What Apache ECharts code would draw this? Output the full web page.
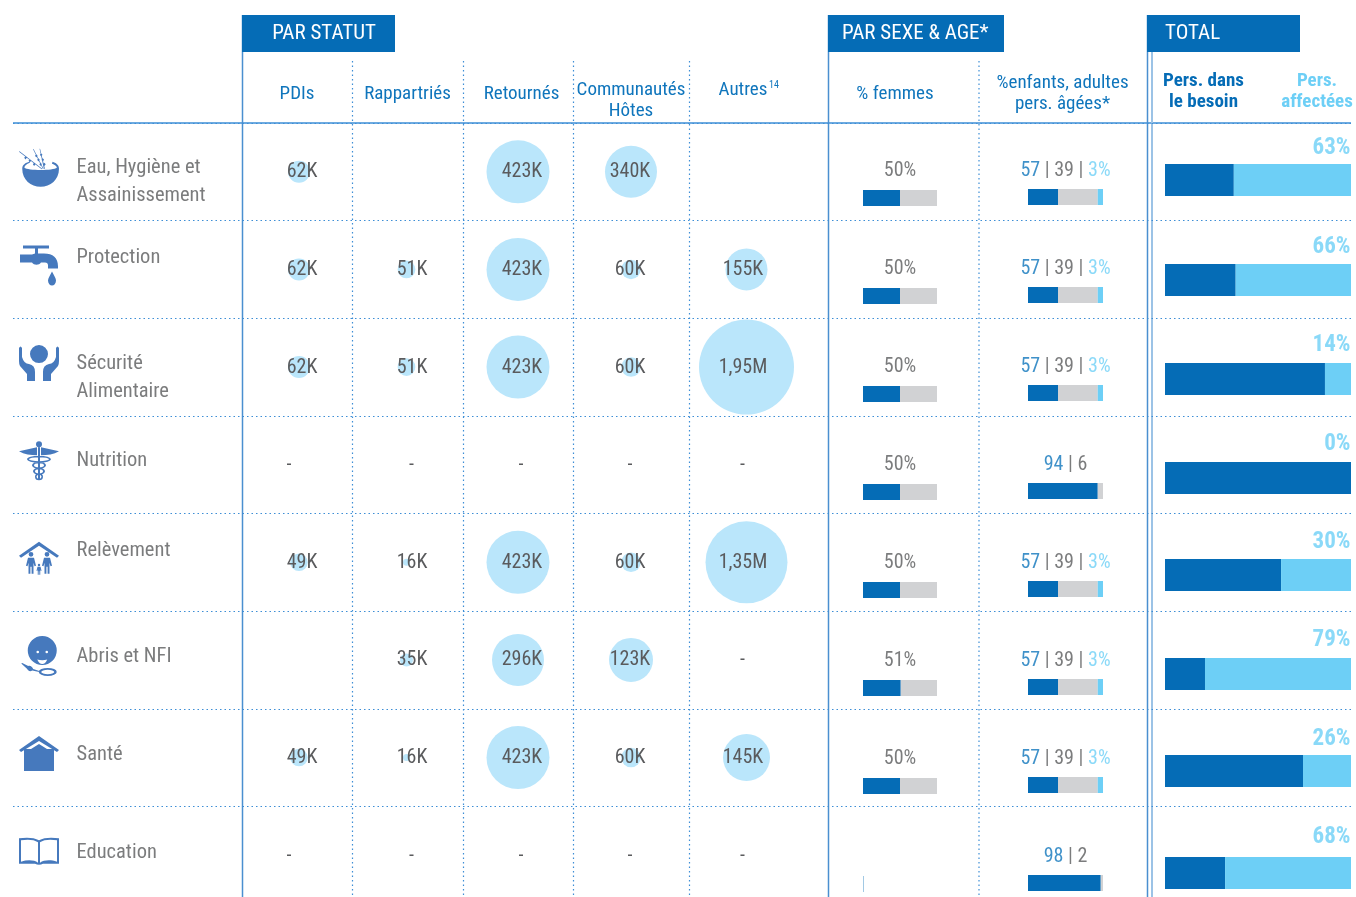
<!DOCTYPE html>
<html lang="fr">
<head>
<meta charset="utf-8">
<title>Personnes dans le besoin par secteur</title>
<script src="https://cdn.jsdelivr.net/npm/echarts@6/dist/echarts.min.js"></script>
<style>
  html, body { margin: 0; padding: 0; background: #fff; }
  #chart { width: 1356px; height: 897px; }
</style>
</head>
<body>
<div id="chart"></div>
<script>
// Données
const sectors = ['Eau, Hygiène et\nAssainissement', 'Protection', 'Sécurité\nAlimentaire', 'Nutrition', 'Relèvement', 'Abris et NFI', 'Santé', 'Education'];
const statuses = ['PDIs', 'Rappartriés', 'Retournés', 'Communautés\nHôtes', 'Autres'];

// en milliers, null = case vide, 0 = tiret
const pdis = [62, 62, 62, 0, 49, null, 49, 0];
const rapatries = [null, 51, 51, 0, 16, 35, 16, 0];
const retournes = [423, 423, 423, 0, 423, 296, 423, 0];
const hotes = [340, 60, 60, 0, 60, 123, 60, 0];
const autres = [null, 155, 1950, 0, 1350, 0, 145, 0];

// % femmes
const femmes = [50, 50, 50, 50, 50, 51, 50, 0.5];
const hommes = [50, 50, 50, 50, 50, 49, 50, 0];
const femmesLabels = ['50%', '50%', '50%', '50%', '50%', '51%', '50%', ''];

// enfants | adultes | pers. âgées
const ageEnfants = [57, 57, 57, 94, 57, 57, 57, 98];
const ageAdultes = [39, 39, 39, 6, 39, 39, 39, 2];
const ageAges = [3, 3, 3, null, 3, 3, 3, null];
const barEnfants = [40, 40, 40, 93, 40, 40, 40, 97];
const barAdultes = [53, 53, 53, 7, 53, 53, 53, 3];
const barAges = [7, 7, 7, 0, 7, 7, 7, 0];

// total
const besoin = [37, 38, 86, 100, 62.4, 21.5, 74.2, 32.3];
const affectees = [63, 62, 14, 0, 37.6, 78.5, 25.8, 67.7];
const affecteesLabels = ['63%', '66%', '14%', '0%', '30%', '79%', '26%', '68%'];

// Style
const FONT = '"Roboto Condensed", "Liberation Sans", sans-serif';
const BLUE = '#056cb6';
const HEAD = '#0f75bc';
const SKY = '#6dcff6';
const GREY = '#d1d2d4';
const TEXT = '#5a5b5d';
const BUBBLE = '#bae6fb';
const ICON = '#4679bd';
const LINE = '#3d8ed6';
const VALUE_SIZE = 20;

// diametre des bulles (px) par valeur
const bubbleSize = { 16: 7, 35: 13, 49: 17.5, 51: 17.7, 60: 19.5, 62: 22, 123: 44, 145: 47, 155: 42, 296: 52, 340: 52, 423: 63, 1350: 82, 1950: 95 };

const circle = (cx, cy, r, sweep) => `M${cx - r} ${cy}A${r} ${r} 0 1 ${sweep} ${cx + r} ${cy}A${r} ${r} 0 1 ${sweep} ${cx - r} ${cy}Z`;
const ellipse = (cx, cy, rx, ry, sweep) => `M${cx - rx} ${cy}A${rx} ${ry} 0 1 ${sweep} ${cx + rx} ${cy}A${rx} ${ry} 0 1 ${sweep} ${cx - rx} ${cy}Z`;
const person = (x, y, k) => circle(x, y + 2.5 * k, 2.4 * k, 1)
  + `M${x - 3 * k} ${y + 6 * k}H${x + 3 * k}L${x + 5 * k} ${y + 14 * k}L${x + 3.5 * k} ${y + 14.5 * k}L${x + 2.5 * k} ${y + 11 * k}V${y + 22 * k}H${x + 0.6 * k}V${y + 15 * k}H${x - 0.6 * k}V${y + 22 * k}H${x - 2.5 * k}V${y + 11 * k}L${x - 3.5 * k} ${y + 14.5 * k}L${x - 5 * k} ${y + 14 * k}Z`;
// epi de blé : tige fine et quelques grains
const grain = (x, y) => `M${x - 1.2} ${y}L${x} ${y - 1.6}L${x + 1.2} ${y}L${x} ${y + 1.6}Z`;

// icones dans l'ordre des lignes
const icons = [
  { size: [40, 38], path: 'M3 20C3 31 11 38 20 38C29 38 37 31 37 20C37 16 34 14 31 13L30.500 15C33 16 35 17 35 19C32 22 8 22 5 19C5 17 7 15 10 14L9.500 13C6 14 3 16 3 20Z'
    + 'M21 20.500L0 3L0.500 2.500L21.500 20Z' + grain(6, 9) + grain(10, 12) + grain(14, 15.500)
    + 'M22 20L13 0.500L13.500 0.300L22.700 20Z' + grain(16, 7) + grain(18, 11) + grain(20, 15.500)
    + 'M23 20L19 0L19.500 0L24 20Z' + grain(20.500, 6) + grain(22, 11) + grain(23.500, 15.500) },
  { size: [38, 40], path: 'M3 0H29V3H18V8H24C33 8 38 12 38 21V23H28V20C28 18 27 17 25 17H21C19 20 14 20 12 17H0V9H12L15 8V3H3Z'
    + 'M32 26C34 30 36 33 36 35C36 38 34 40 32 40C30 40 28 38 28 35C28 33 30 30 32 26Z' },
  { size: [40, 36], path: circle(20, 9, 9, 1)
    + 'M0 3Q1.500 0 3 3L3 12Q5 19 10 19Q16 20 16 27V36H8V29L1 21Q0 19 0 16Z'
    + 'M40 3Q38.500 0 37 3L37 12Q35 19 30 19Q24 20 24 27V36H32V29L39 21Q40 19 40 16Z' },
  { size: [40, 39], path: circle(20, 3, 3, 1)
    + 'M0 10C6 9 12 7 18 6V14C12 14 5 13 0 10Z M40 10C34 9 28 7 22 6V14C28 14 35 13 40 10Z'
    + 'M19 6H21V39H19Z'
    + ellipse(20, 18, 12, 3.5, 1) + ellipse(20, 18, 10, 2, 0)
    + ellipse(20, 24, 7, 3.5, 1) + ellipse(20, 24, 5, 2, 0)
    + ellipse(20, 30, 6, 3.5, 1) + ellipse(20, 30, 4, 2, 0)
    + ellipse(20, 35.500, 4, 3.5, 1) + ellipse(20, 35.500, 2.500, 2, 0) },
  { size: [40, 33], path: 'M0 14L20 0L40 14L38 16L20 4L2 16Z' + person(12, 10, 1) + person(28, 10, 1) + person(20, 22, 0.5) },
  { size: [35.500, 40], path: circle(21, 14.500, 14.500, 1) + circle(16.500, 16, 1.300, 0) + circle(25.500, 16, 1.300, 0)
    + 'M16 23.500Q18 28 21 28Q24 28 26 23.500Q21 25 16 23.500Z'
    + 'M0 27.500L1 27L7 30C9 29 11 31 12 33L18 35L18 36L11 34.500C9 36 7 35 6 33Z'
    + ellipse(26.500, 36, 9, 4, 1) + ellipse(26.500, 36, 6.500, 2.200, 0) },
  { size: [40, 35], path: 'M0 14L20 0L40 14L38 16L20 5L2 16Z M5 13H12L20 8L28 13H35V35H5Z' },
  { size: [40, 27], path: 'M0 1C7 0 15 0 20 3C25 0 33 0 40 1V26H24Q22 27 20 27Q18 27 16 26H0Z'
    + 'M2 3V24C8 22 15 22 19 25V5C15 2 8 2 2 3Z M38 3C32 2 25 2 21 5V25C25 22 32 22 38 24Z' }
];

const grids = [], xAxes = [], yAxes = [], series = [];
function addGrid(left, width, top, height, xAxis, yCats) {
  // outerBoundsMode none, sinon v6 retrecit la grille pour rester dans le canvas
  grids.push({ left, width, top, height, outerBoundsMode: 'none' });
  xAxes.push(Object.assign({ gridIndex: grids.length - 1, show: false }, xAxis));
  yAxes.push({ gridIndex: grids.length - 1, type: 'category', data: yCats, inverse: true, show: false });
  return grids.length - 1;
}
const pctAxis = { type: 'value', min: 0, max: 100 };
const dotted = { type: [1.5, 3], width: 1.2, color: LINE };
const transparentDot = { symbolSize: 1, itemStyle: { color: 'transparent' } };

// grille principale : les pointillés horizontaux viennent de l'axe
grids.push({ left: 13, width: 1338, top: 123, height: 781, outerBoundsMode: 'none' });
xAxes.push({ gridIndex: 0, type: 'value', show: false });
yAxes.push({
  gridIndex: 0, type: 'category', data: sectors, inverse: true,
  axisLine: { show: false }, axisTick: { show: false }, axisLabel: { show: false },
  splitLine: { show: true, interval: 0, lineStyle: dotted }
});

// icones
const iconGrid = addGrid(19, 40, 119, 781, { type: 'category', data: ['icon'] }, sectors);
series.push({
  type: 'scatter', xAxisIndex: iconGrid, yAxisIndex: iconGrid, silent: true,
  itemStyle: { color: ICON, opacity: 1 },
  data: sectors.map((s, i) => ({ value: ['icon', s], symbol: 'path://' + icons[i].path, symbolSize: icons[i].size }))
});

// noms des secteurs
const nameOffsets = [10, -12, 10.5, -4, -11, -3.500, -3, -2.500];
const nameGrid = addGrid(76, 150, 123, 781, { type: 'value', min: 0, max: 1 }, sectors);
series.push(Object.assign({
  type: 'scatter', xAxisIndex: nameGrid, yAxisIndex: nameGrid, silent: true,
  data: sectors.map((s, i) => ({
    value: [0, s],
    label: {
      show: true, position: 'right', distance: 0, offset: [0, nameOffsets[i]],
      formatter: s, color: TEXT, fontFamily: FONT, fontSize: 20.5, lineHeight: 28, align: 'left'
    }
  }))
}, transparentDot));

// bulles par statut
const bubbleColumns = [
  { values: pdis, centre: 299, textDx: 3, dashDx: -10 },
  { values: rapatries, centre: 406.5, textDx: 5.500, dashDx: 5 },
  { values: retournes, centre: 518, textDx: 4, dashDx: 3 },
  { values: hotes, centre: 631, textDx: -1, dashDx: -1 },
  { values: autres, centre: 746.500, textDx: -3.500, dashDx: -4 }
];
const fmtValue = v => v === 0 ? '-' : v >= 1000 ? (v / 1000).toFixed(2).replace('.', ',') + 'M' : v + 'K';
bubbleColumns.forEach((col, c) => {
  const g = addGrid(col.centre - 50, 100, 123, 781, { type: 'category', data: [statuses[c]] }, sectors);
  series.push({
    type: 'scatter', xAxisIndex: g, yAxisIndex: g, silent: true,
    symbolSize: d => bubbleSize[d[2]] || 0,
    itemStyle: { color: BUBBLE, opacity: 1 },
    data: col.values.map((v, r) => v === null ? null : {
      value: [statuses[c], sectors[r], v],
      label: {
        show: true, position: 'inside', formatter: fmtValue(v), color: TEXT, fontFamily: FONT, fontSize: VALUE_SIZE,
        offset: [v === 0 ? col.dashDx : col.textDx, 0.5]
      }
    }).filter(Boolean)
  });
});

// barres empilées helper
function stackBar(g, values, color, height, stack) {
  return {
    type: 'bar', xAxisIndex: g, yAxisIndex: g, stack, barWidth: height, silent: true,
    itemStyle: { color }, data: values
  };
}

// % femmes
const femGrid = addGrid(863, 74, 149, 784, pctAxis, sectors);
series.push(stackBar(femGrid, femmes, BLUE, 16, 'f'), stackBar(femGrid, hommes, GREY, 16, 'f'));
series.push(Object.assign({
  type: 'scatter', xAxisIndex: femGrid, yAxisIndex: femGrid, silent: true,
  data: femmesLabels.map((t, r) => ({
    value: [50, sectors[r]],
    label: { show: true, position: 'inside', formatter: t, offset: [0, -27.5], color: TEXT, fontFamily: FONT, fontSize: VALUE_SIZE }
  }))
}, transparentDot));

// age
const ageGrid = addGrid(1028, 75, 148, 784, pctAxis, sectors);
series.push(stackBar(ageGrid, barEnfants, BLUE, 16, 'a'), stackBar(ageGrid, barAdultes, GREY, 16, 'a'), stackBar(ageGrid, barAges, SKY, 16, 'a'));
const ageRich = {
  a: { color: HEAD, fontFamily: FONT, fontSize: VALUE_SIZE },
  g: { color: TEXT, fontFamily: FONT, fontSize: VALUE_SIZE },
  c: { color: SKY, fontFamily: FONT, fontSize: VALUE_SIZE }
};
series.push(Object.assign({
  type: 'scatter', xAxisIndex: ageGrid, yAxisIndex: ageGrid, silent: true,
  data: sectors.map((s, r) => ({
    value: [50, s],
    label: {
      show: true, position: 'inside', offset: [0, -26.5], rich: ageRich,
      formatter: `{a|${ageEnfants[r]}}{g| | ${ageAdultes[r]}}` + (ageAges[r] === null ? '' : `{g| | }{c|${ageAges[r]}%}`)
    }
  }))
}, transparentDot));

// total, une petite grille par ligne car les barres ne sont pas tout à fait régulières
const totalBarY = [180, 280, 379, 478, 575, 674, 771, 873];
const totalLabelY = [148, 247, 345, 444, 542, 640, 739, 837];
sectors.forEach((s, r) => {
  const g = addGrid(1165, 186, totalBarY[r] - 16, 32, pctAxis, [s]);
  series.push(stackBar(g, [besoin[r]], BLUE, 32, 't' + r), stackBar(g, [affectees[r]], SKY, 32, 't' + r));
  series.push(Object.assign({
    type: 'scatter', xAxisIndex: g, yAxisIndex: g, silent: true,
    data: [{
      value: [100, s],
      label: {
        show: true, position: 'left', distance: 0, offset: [0, totalLabelY[r] - totalBarY[r]],
        formatter: affecteesLabels[r], color: SKY, fontFamily: FONT, fontSize: 23, fontWeight: 'bold'
      }
    }]
  }, transparentDot));
});

// Habillage : filets, bandeaux, entêtes
const vLine = (x, y1, color, width, dash) => ({
  type: 'line', shape: { x1: x, y1, x2: x, y2: 897 }, silent: true,
  style: { stroke: color, lineWidth: width, lineDash: dash || null }
});
const headBox = (x, width, text, textX, align) => [
  { type: 'rect', shape: { x, y: 15, width, height: 37 }, silent: true, style: { fill: BLUE } },
  { type: 'text', x: textX, y: 33.5, silent: true, style: { text, fill: '#fff', font: '21px ' + FONT, align, verticalAlign: 'middle' } }
];
const headText = (x, y, text, color, weight, size) => ({
  type: 'text', x, y, silent: true,
  style: { text, fill: color, font: `${weight || 'normal'} ${size || 19}px ${FONT}`, align: 'center', verticalAlign: 'middle', lineHeight: 21 }
});

const graphic = [
  { type: 'line', shape: { x1: 13, y1: 123, x2: 1351, y2: 123 }, silent: true, style: { stroke: LINE, lineWidth: 1.5 } },
  vLine(242.5, 15, '#4a8fd0', 1.5),
  vLine(828.5, 15, '#4a8fd0', 1.5),
  vLine(1147.5, 15, '#4a8fd0', 1.5),
  vLine(1152, 52, '#9cc3e6', 2),
  vLine(352.5, 61, LINE, 1.2, [1.5, 3]),
  vLine(463.5, 61, LINE, 1.2, [1.5, 3]),
  vLine(573.5, 61, LINE, 1.2, [1.5, 3]),
  vLine(689.5, 61, LINE, 1.2, [1.5, 3]),
  vLine(979, 61, LINE, 1.2, [1.5, 3]),
  ...headBox(242, 153, 'PAR STATUT', 324, 'center'),
  ...headBox(828, 176, 'PAR SEXE & AGE*', 842, 'left'),
  ...headBox(1147, 153, 'TOTAL', 1165, 'left'),
  headText(297, 94, statuses[0], HEAD),
  headText(407.5, 94, statuses[1], HEAD),
  headText(521.5, 94, statuses[2], HEAD),
  headText(631, 101, statuses[3], HEAD),
  headText(743, 90, statuses[4], HEAD),
  headText(774, 85, '14', HEAD, 'normal', 10),
  headText(895, 94, '% femmes', HEAD),
  headText(1062.5, 94, '%enfants, adultes\npers. âgées*', HEAD),
  headText(1203.5, 92, 'Pers. dans\nle besoin', BLUE, 'bold'),
  headText(1317, 92, 'Pers.\naffectées', SKY, 'bold')
];

const chart = echarts.init(document.getElementById('chart'));
chart.setOption({
  backgroundColor: '#fff',
  animation: false,
  textStyle: { fontFamily: FONT },
  grid: grids,
  xAxis: xAxes,
  yAxis: yAxes,
  series,
  graphic
});
</script>
</body>
</html>
